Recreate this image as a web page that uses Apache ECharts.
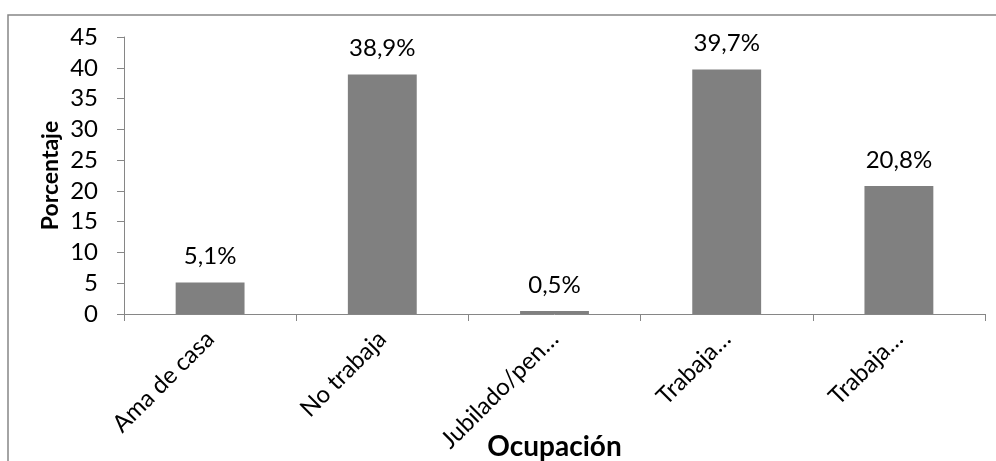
<!DOCTYPE html>
<html>
<head>
<meta charset="utf-8">
<script src="https://cdn.jsdelivr.net/npm/echarts@6/dist/echarts.min.js"></script>
<style>
  html, body { margin: 0; padding: 0; background: #ffffff; }
  #chart { width: 996px; height: 461px; }
</style>
</head>
<body>
<div id="chart"></div>
<script>
// Occupation categories and their share (%)
const categories = ['Ama de casa', 'No trabaja', 'Jubilado/pen…', 'Trabaja…', 'Trabaja…'];
const percentages = [5.1, 38.9, 0.5, 39.7, 20.8];
const yTicks = { min: 0, max: 45, step: 5 };

const FONT = 'Lato, "Open Sans", "Liberation Sans", sans-serif';
const AXIS_GREY = '#868686';

const chart = echarts.init(document.getElementById('chart'), null, { renderer: 'canvas' });

chart.setOption({
  animation: false,
  backgroundColor: '#ffffff',
  textStyle: { fontFamily: FONT, color: '#000000' },
  graphic: [{
    type: 'rect',
    silent: true,
    shape: { x: 8, y: 15, width: 1000, height: 500 },
    style: { fill: 'none', stroke: AXIS_GREY, lineWidth: 1.5 }
  }],
  grid: {
    left: 124, right: 11, top: 37, bottom: 147,
    containLabel: false,
    outerBoundsMode: 'none'
  },
  xAxis: {
    type: 'category',
    data: categories,
    boundaryGap: true,
    name: 'Ocupación',
    nameLocation: 'middle',
    nameGap: 119,
    nameMoveOverlap: false,
    nameTextStyle: { fontFamily: FONT, fontSize: 28, fontWeight: 'bold', color: '#000000' },
    axisLine: { show: true, lineStyle: { color: AXIS_GREY, width: 1 } },
    axisTick: { show: true, alignWithLabel: false, length: 7, lineStyle: { color: AXIS_GREY } },
    axisLabel: { rotate: 45, margin: 21, fontFamily: FONT, fontSize: 24, color: '#000000', interval: 0 },
    splitLine: { show: false }
  },
  yAxis: {
    type: 'value',
    min: yTicks.min,
    max: yTicks.max,
    interval: yTicks.step,
    name: 'Porcentaje',
    nameLocation: 'middle',
    nameRotate: 90,
    nameGap: 62,
    nameMoveOverlap: false,
    nameTextStyle: { fontFamily: FONT, fontSize: 23, fontWeight: 'bold', color: '#000000' },
    axisLine: { show: true, lineStyle: { color: AXIS_GREY, width: 1 } },
    axisTick: { show: true, length: 7, lineStyle: { color: AXIS_GREY } },
    axisLabel: { margin: 26, fontFamily: FONT, fontSize: 24, color: '#000000' },
    splitLine: { show: false }
  },
  series: [{
    type: 'bar',
    data: percentages,
    barWidth: '40%',
    itemStyle: { color: '#808080' },
    label: {
      show: true,
      position: 'top',
      distance: 14,
      fontFamily: FONT,
      fontSize: 24,
      color: '#000000',
      formatter: p => p.value.toFixed(1).replace('.', ',') + '%'
    }
  }]
});
</script>
</body>
</html>
